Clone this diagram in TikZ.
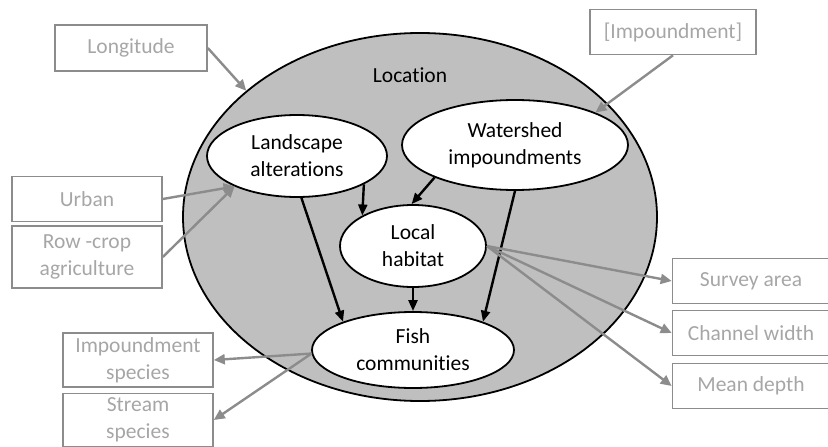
\documentclass[tikz,border=0pt]{standalone}
\usepackage{fontspec}
\setmainfont[Ligatures=NoCommon]{Carlito}
\usetikzlibrary{shapes.geometric,arrows.meta}
\colorlet{locfill}{black!25}
\colorlet{boxline}{black!45}
\colorlet{boxtext}{black!35}
\begin{document}
\begin{tikzpicture}[x=1pt,y=-1pt,font=\fontsize{21.5}{27}\selectfont,
    oval/.style={ellipse,draw=black,line width=1.8pt,fill=white,inner sep=0pt,align=center},
    varbox/.style={draw=boxline,line width=1.6pt,text=boxtext,inner sep=0pt,align=center},
    cause/.style={line width=2.4pt,-{Triangle[length=11pt,width=9pt]}},
    measure/.style={draw=boxline,line width=2.4pt,-{Triangle[length=11pt,width=10pt]}}]
  \useasboundingbox (0,0) rectangle (828,447);
  % location and causal nodes
  \node[oval,fill=locfill,minimum width=474pt,minimum height=368pt] (loc) at (420,217) {};
  \node (loctext) at (410,75) {Location};
  \node[oval,minimum width=180pt,minimum height=82pt] (land) at (297,156) {Landscape\\alterations};
  \node[oval,minimum width=226pt,minimum height=90pt] (shed) at (515,145) {Watershed\\impoundments};
  \node[oval,minimum width=146pt,minimum height=82pt] (hab) at (413,246) {Local\\habitat};
  \node[oval,minimum width=202pt,minimum height=76pt] (fish) at (413,350) {Fish\\communities};
  % measured variables
  \node[varbox,minimum width=152pt,minimum height=46pt] (long) at (131,48) {Longitude};
  \node[varbox,minimum width=166pt,minimum height=45pt] (imp) at (673,32) {[Impoundment]};
  \node[varbox,minimum width=150pt,minimum height=45pt] (urban) at (87,199) {Urban};
  \node[varbox,minimum width=150pt,minimum height=62pt] (row) at (87,257) {Row -crop\\agriculture};
  \node[varbox,minimum width=150pt,minimum height=54pt] (impsp) at (138,360) {Impoundment\\species};
  \node[varbox,minimum width=150pt,minimum height=53pt] (strsp) at (138,420) {Stream\\species};
  \node[varbox,minimum width=157pt,minimum height=45pt] (area) at (751,281) {Survey area};
  \node[varbox,minimum width=157pt,minimum height=45pt] (width) at (751,333) {Channel width};
  \node[varbox,minimum width=157pt,minimum height=45pt] (depth) at (751,386) {Mean depth};
  \begin{scope}[cause]
    \draw (land.-23) to (hab.149);
    \draw (land.-84) to (fish.158);
    \draw (shed.202) to (hab.92);
    \draw (shed.south) to (fish.22);
    \draw (hab.south) to (fish.north);
  \end{scope}
  \begin{scope}[measure]
    \draw (long.east) to (loc.144);
    \draw (imp.south) to (shed.22);
    \draw (urban.east) to (land.206);
    \draw (row.east) to (land.206);
    \draw (fish.182) to (impsp.east);
    \draw (fish.182) to (strsp.east);
    \draw (hab.east) to (area.west);
    \draw (hab.east) to (width.west);
    \draw (hab.east) to (depth.west);
  \end{scope}
\end{tikzpicture}
\end{document}
